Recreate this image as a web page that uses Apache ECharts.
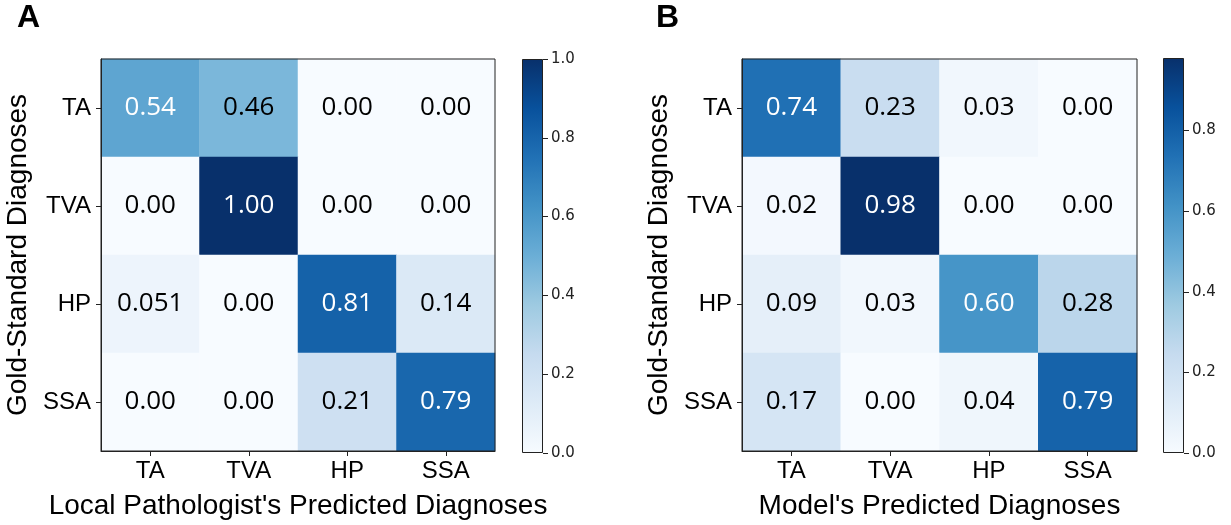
<!DOCTYPE html>
<html>
<head>
<meta charset="utf-8">
<script src="https://cdn.jsdelivr.net/npm/echarts@6/dist/echarts.min.js"></script>
<style>
html,body{margin:0;padding:0;background:#fff;}
#chart{width:1231px;height:525px;}
</style>
</head>
<body>
<div id="chart"></div>
<script>
// ---- Data ----
const predCategories = ['TA', 'TVA', 'HP', 'SSA'];
const goldCategories = ['TA', 'TVA', 'HP', 'SSA'];

// Panel A: local pathologist (rows = gold standard, cols = predicted)
const pathologistValues = [
  [0.54, 0.46, 0.00, 0.00],
  [0.00, 1.00, 0.00, 0.00],
  [0.051, 0.00, 0.81, 0.14],
  [0.00, 0.00, 0.21, 0.79]
];
const pathologistLabels = [
  ['0.54', '0.46', '0.00', '0.00'],
  ['0.00', '1.00', '0.00', '0.00'],
  ['0.051', '0.00', '0.81', '0.14'],
  ['0.00', '0.00', '0.21', '0.79']
];

// Panel B: model
const modelValues = [
  [0.74, 0.23, 0.03, 0.00],
  [0.02, 0.98, 0.00, 0.00],
  [0.09, 0.03, 0.60, 0.28],
  [0.17, 0.00, 0.04, 0.79]
];
const modelLabels = [
  ['0.74', '0.23', '0.03', '0.00'],
  ['0.02', '0.98', '0.00', '0.00'],
  ['0.09', '0.03', '0.60', '0.28'],
  ['0.17', '0.00', '0.04', '0.79']
];

const colorbarTicksA = [0, 0.2, 0.4, 0.6, 0.8, 1.0];
const colorbarTicksB = [0, 0.2, 0.4, 0.6, 0.8];
const vmaxA = 1.0;
const vmaxB = 0.98;

// ---- Styling ----
const blues = ['#f7fbff', '#deebf7', '#c6dbef', '#9ecae1', '#6baed6', '#4292c6', '#2171b5', '#08519c', '#08306b'];
const axisFont = 'Liberation Sans, Arial, sans-serif';
const cellFont = 'Open Sans, Noto Sans, sans-serif';
const cbarFont = 'DejaVu Sans, sans-serif';
const lineCol = '#222';

function buildData(values, labels, vmax) {
  const out = [];
  values.forEach((row, r) => {
    row.forEach((v, c) => {
      out.push({
        value: [c, r, v],
        label: { formatter: labels[r][c], color: v > vmax / 2 ? '#fff' : '#000' }
      });
    });
  });
  return out;
}

function gradient() {
  const stops = blues.map((col, i) => ({ offset: 1 - i / (blues.length - 1), color: col }));
  stops.reverse();
  return new echarts.graphic.LinearGradient(0, 0, 0, 1, stops);
}

const gridBox = { show: true, z: 10, backgroundColor: 'transparent', borderColor: lineCol, borderWidth: 1 };
const grids = [
  Object.assign({ left: 101, top: 59, width: 394, height: 394 }, gridBox),
  { left: 522, top: 59, width: 21, height: 394 },
  Object.assign({ left: 742, top: 59, width: 395, height: 394 }, gridBox),
  { left: 1163, top: 58, width: 21, height: 395 }
];

function heatAxes(gi, xName) {
  const x = {
    type: 'category', gridIndex: gi, data: predCategories, position: 'bottom', z: 10,
    axisLine: { show: true, lineStyle: { color: lineCol, width: 1 } },
    axisTick: { show: true, alignWithLabel: true, length: 5, lineStyle: { color: lineCol } },
    axisLabel: { fontFamily: axisFont, fontSize: 24, color: '#000', margin: 8 },
    splitLine: { show: false },
    name: xName, nameLocation: 'middle', nameGap: 41,
    nameTextStyle: { fontFamily: axisFont, fontSize: 28, color: '#000' }
  };
  const y = {
    type: 'category', gridIndex: gi, data: goldCategories, inverse: true, position: 'left', z: 10,
    axisLine: { show: true, lineStyle: { color: lineCol, width: 1 } },
    axisTick: { show: true, alignWithLabel: true, length: 5, lineStyle: { color: lineCol } },
    axisLabel: { fontFamily: axisFont, fontSize: 24, color: '#000', margin: 10 },
    splitLine: { show: false },
    name: 'Gold-Standard Diagnoses', nameLocation: 'middle', nameGap: 69, nameRotate: 90,
    nameTextStyle: { fontFamily: axisFont, fontSize: 28, color: '#000' }
  };
  return { x, y };
}

function cbarAxes(gi, vmax, ticks) {
  const x = {
    type: 'category', gridIndex: gi, data: ['c'], show: false
  };
  const y = {
    type: 'value', gridIndex: gi, min: 0, max: vmax, position: 'right', z: 10,
    axisLine: { show: false },
    axisTick: { show: true, length: 5, lineStyle: { color: lineCol }, customValues: ticks },
    axisLabel: {
      fontFamily: cbarFont, fontSize: 15, color: '#222', margin: 8,
      customValues: ticks, formatter: v => v.toFixed(1)
    },
    splitLine: { show: false }
  };
  return { x, y };
}

const hA = heatAxes(0, "Local Pathologist's Predicted Diagnoses");
const cA = cbarAxes(1, vmaxA, colorbarTicksA);
const hB = heatAxes(2, "Model's Predicted Diagnoses");
const cB = cbarAxes(3, vmaxB, colorbarTicksB);

const option = {
  backgroundColor: '#fff',
  animation: false,
  grid: grids,
  xAxis: [hA.x, cA.x, hB.x, cB.x],
  yAxis: [hA.y, cA.y, hB.y, cB.y],
  visualMap: [
    { type: 'continuous', show: false, seriesIndex: 0, min: 0, max: vmaxA, dimension: 2, inRange: { color: blues } },
    { type: 'continuous', show: false, seriesIndex: 2, min: 0, max: vmaxB, dimension: 2, inRange: { color: blues } }
  ],
  series: [
    {
      type: 'heatmap', xAxisIndex: 0, yAxisIndex: 0,
      data: buildData(pathologistValues, pathologistLabels, vmaxA),
      label: cellLabel(), itemStyle: { borderWidth: 0 }
    },
    {
      type: 'bar', xAxisIndex: 1, yAxisIndex: 1, barWidth: '100%',
      data: [vmaxA], silent: true,
      itemStyle: { color: gradient(), borderColor: lineCol, borderWidth: 1 }
    },
    {
      type: 'heatmap', xAxisIndex: 2, yAxisIndex: 2,
      data: buildData(modelValues, modelLabels, vmaxB),
      label: cellLabel(), itemStyle: { borderWidth: 0 }
    },
    {
      type: 'bar', xAxisIndex: 3, yAxisIndex: 3, barWidth: '100%',
      data: [vmaxB], silent: true,
      itemStyle: { color: gradient(), borderColor: lineCol, borderWidth: 1 }
    }
  ],
  graphic: [
    { type: 'text', left: 17, top: 2, style: { text: 'A', font: 'bold 32px "Liberation Sans", Arial, sans-serif', fill: '#000' } },
    { type: 'text', left: 656, top: 2, style: { text: 'B', font: 'bold 32px "Liberation Sans", Arial, sans-serif', fill: '#000' } }
  ]
};

function cellLabel() {
  return { show: true, fontFamily: cellFont, fontSize: 26 };
}

const chart = echarts.init(document.getElementById('chart'), null, { renderer: 'canvas' });
chart.setOption(option);
</script>
</body>
</html>
